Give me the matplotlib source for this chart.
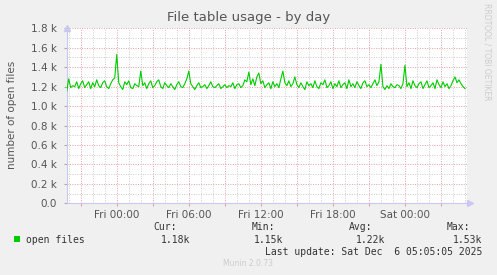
import numpy as np
import pandas as pd
import matplotlib
matplotlib.use('Agg')
import matplotlib.pyplot as plt
import matplotlib.dates as mdates
from matplotlib.ticker import FixedLocator, FixedFormatter, FuncFormatter

# open files, 10 minute samples starting Thu 19:50
open_files = [
    1150, 1280, 1190, 1210, 1200, 1250, 1180, 1230, 1260, 1190, 1220, 1250, 1180, 1240, 1200, 1270, 1210, 1190, 1240, 1260,
    1200, 1180, 1230, 1270, 1290, 1530, 1240, 1200, 1170, 1250, 1220, 1260, 1190, 1180, 1230, 1210, 1200, 1360, 1210, 1240,
    1180, 1230, 1260, 1190, 1210, 1250, 1270, 1200, 1180, 1240, 1210, 1190, 1230, 1200, 1170, 1220, 1250, 1200, 1190, 1230,
    1280, 1360, 1230, 1200, 1170, 1210, 1240, 1190, 1200, 1220, 1180, 1210, 1250, 1200, 1190, 1210, 1230, 1180, 1200, 1220,
    1190, 1210, 1200, 1240, 1180, 1220, 1230, 1190, 1210, 1270, 1250, 1350, 1220, 1280, 1210, 1300, 1340, 1230, 1260, 1190,
    1220, 1240, 1180, 1250, 1200, 1230, 1190, 1280, 1360, 1240, 1210, 1260, 1200, 1230, 1300, 1220, 1190, 1240, 1200, 1170,
    1250, 1210, 1230, 1190, 1260, 1200, 1180, 1240, 1220, 1270, 1190, 1210, 1250, 1180, 1230, 1200, 1260, 1190, 1220, 1240,
    1180, 1270, 1200, 1230, 1190, 1250, 1210, 1180, 1240, 1260, 1200, 1220, 1190, 1230, 1270, 1210, 1250, 1430, 1200, 1170,
    1210, 1180, 1230, 1200, 1190, 1220, 1210, 1180, 1230, 1420, 1200, 1240, 1180, 1260, 1210, 1190, 1230, 1250, 1180, 1220,
    1260, 1190, 1210, 1240, 1180, 1270, 1220, 1190, 1250, 1200, 1230, 1180, 1210, 1260, 1300, 1240, 1270, 1230, 1200, 1180,
]
y_ticks = [0, 200, 400, 600, 800, 1000, 1200, 1400, 1600, 1800]
y_labels = ['0.0', '0.2 k', '0.4 k', '0.6 k', '0.8 k', '1.0 k', '1.2 k', '1.4 k', '1.6 k', '1.8 k']
stats_heads = ['Cur:', 'Min:', 'Avg:', 'Max:']
stats_vals = ['1.18k', '1.15k', '1.22k', '1.53k']

times = pd.date_range('2025-12-04 19:50', periods=len(open_files), freq='10min')
x_start = pd.Timestamp('2025-12-04 19:50')
x_end = pd.Timestamp('2025-12-06 05:10')

W, H = 497, 275
fig = plt.figure(figsize=(W / 100, H / 100), dpi=100, facecolor='#f0f0f0')
ax = fig.add_axes([66.7 / W, 1 - 203.3 / H, 400.3 / W, 175 / H])
ax.set_facecolor('white')

ax.plot(times, open_files, color='#00cc00', lw=0.8, zorder=3)

ax.set_xlim(x_start, x_end)
ax.set_ylim(0, 1800)

# grid
ax.yaxis.set_major_locator(FixedLocator(y_ticks))
ax.yaxis.set_major_formatter(FixedFormatter(y_labels))
ax.yaxis.set_minor_locator(FixedLocator(np.arange(100, 1800, 200)))
ax.xaxis.set_major_locator(mdates.HourLocator(byhour=range(0, 24, 3)))
ax.xaxis.set_minor_locator(mdates.HourLocator())

def fmt(x, pos):
    d = mdates.num2date(x)
    if d.hour % 6 == 0:
        return d.strftime('%a %H:%M')
    return ''

ax.xaxis.set_major_formatter(FuncFormatter(fmt))

ax.grid(which='major', color='#e8a0a0', ls=(0, (1, 1.5)), lw=0.7, zorder=1)
ax.grid(which='minor', color='#cccccc', ls=(0, (1, 1.5)), lw=0.7, zorder=1)

for s in ['top', 'right']:
    ax.spines[s].set_visible(False)
for s in ['left', 'bottom']:
    ax.spines[s].set_color('#c8c8f0')
    ax.spines[s].set_linewidth(0.8)

ax.tick_params(axis='both', which='major', labelsize=7.5, labelcolor='#555555', length=2, color='#e8a0a0', pad=3)
ax.tick_params(axis='both', which='minor', length=0)
ax.tick_params(axis='y', which='major', color='#aaaaaa', pad=5)

# axis arrows
ax.plot([0], [1.0], marker='^', ms=4, color='#c8c8f0', transform=ax.transAxes, clip_on=False)
ax.plot([1.008], [0], marker='>', ms=4, color='#c8c8f0', transform=ax.transAxes, clip_on=False)

# texts
fig.text(248.5 / W, 1 - 17 / H, 'File table usage - by day', ha='center', va='center', fontsize=9.5, color='#555555')
fig.text(12 / W, 1 - 115 / H, 'number of open files', rotation=90, ha='center', va='center', fontsize=7.5, color='#555555')
fig.text(487 / W, 1 - 52 / H, 'RRDTOOL / TOBI OETIKER', rotation=270, ha='center', va='center', fontsize=5.5, color='#cccccc')

mono = 'DejaVu Sans Mono'
fig.patches.append(plt.Rectangle((14 / W, 1 - 242.3 / H), 6 / W, 6 / H, transform=fig.transFigure,
                                 facecolor='#00cc00', edgecolor='none'))
fig.text(26.3 / W, 1 - 239.7 / H, 'open files', ha='left', va='center', fontsize=7, family=mono, color='#333333')

head_x = [177, 275, 372, 470]
val_x = [190, 283.3, 385, 482.7]
for hx, vx, h, v in zip(head_x, val_x, stats_heads, stats_vals):
    fig.text(hx / W, 1 - 227.5 / H, h, ha='right', va='center', fontsize=7, family=mono, color='#333333')
    fig.text(vx / W, 1 - 239.7 / H, v, ha='right', va='center', fontsize=7, family=mono, color='#333333')

fig.text(482.3 / W, 1 - 251.7 / H, 'Last update: Sat Dec  6 05:05:05 2025', ha='right', va='center',
         fontsize=7, family=mono, color='#333333')
fig.text(248 / W, 1 - 264 / H, 'Munin 2.0.73', ha='center', va='center', fontsize=5.5, color='#cccccc')

fig.savefig('out.png', dpi=100, facecolor=fig.get_facecolor())
